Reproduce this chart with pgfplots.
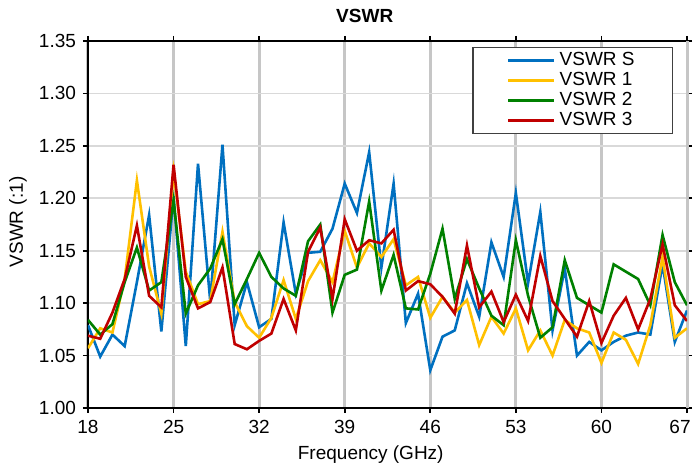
\documentclass[border=0pt]{standalone}
\usepackage{pgfplots}
\pgfplotsset{compat=1.18}
\usepackage{pgfplotstable}
\usepackage{fontspec}
\setmainfont{Liberation Sans}

\definecolor{vS}{RGB}{0,112,192}
\definecolor{v1}{RGB}{255,192,0}
\definecolor{v2}{RGB}{0,128,0}
\definecolor{v3}{RGB}{192,0,0}

% frequency (GHz), VSWR S, VSWR 1, VSWR 2, VSWR 3
\pgfplotstableread{
f     S     A     B     C
18 1.079 1.057 1.084 1.069
19 1.049 1.076 1.070 1.066
20 1.070 1.072 1.080 1.091
21 1.059 1.123 1.120 1.123
22 1.120 1.217 1.153 1.174
23 1.184 1.135 1.112 1.107
24 1.073 1.090 1.120 1.096
25 1.202 1.225 1.198 1.232
26 1.059 1.130 1.090 1.125
27 1.233 1.099 1.117 1.095
28 1.102 1.102 1.133 1.101
29 1.251 1.168 1.161 1.134
30 1.079 1.101 1.099 1.061
31 1.120 1.078 1.123 1.056
32 1.077 1.067 1.148 1.064
33 1.085 1.086 1.125 1.071
34 1.177 1.122 1.114 1.104
35 1.109 1.085 1.107 1.074
36 1.148 1.121 1.159 1.149
37 1.149 1.141 1.175 1.172
38 1.171 1.120 1.091 1.104
39 1.214 1.169 1.127 1.180
40 1.186 1.134 1.132 1.150
41 1.244 1.157 1.197 1.160
42 1.134 1.144 1.112 1.157
43 1.214 1.161 1.146 1.170
44 1.081 1.117 1.095 1.112
45 1.109 1.125 1.094 1.121
46 1.036 1.086 1.128 1.118
47 1.068 1.106 1.171 1.106
48 1.074 1.091 1.104 1.090
49 1.119 1.103 1.142 1.155
50 1.087 1.060 1.114 1.096
51 1.158 1.087 1.088 1.111
52 1.125 1.071 1.079 1.082
53 1.205 1.095 1.160 1.108
54 1.119 1.055 1.107 1.083
55 1.187 1.074 1.067 1.145
56 1.074 1.050 1.077 1.102
57 1.133 1.084 1.141 1.085
58 1.050 1.076 1.105 1.068
59 1.063 1.072 1.098 1.102
60 1.055 1.043 1.091 1.062
61 1.063 1.072 1.137 1.088
62 1.069 1.065 1.130 1.105
63 1.072 1.042 1.123 1.075
64 1.070 1.079 1.098 1.104
65 1.137 1.144 1.165 1.156
66 1.063 1.067 1.120 1.098
67 1.093 1.076 1.098 1.083
}\vswr

\begin{document}
\begin{tikzpicture}
% page frame: 694x469 px at 0.5pt per px, plot area at (88,41)-(687,408) px
\useasboundingbox (-44pt,-30.5pt) rectangle (303pt,204pt);
\begin{axis}[
    at={(0pt,0pt)}, anchor=south west,
    scale only axis,
    width=299.5pt,
    height=183.5pt,
    xmin=18, xmax=67,
    ymin=1, ymax=1.35,
    xtick={18,25,32,39,46,53,60},
    extra x ticks={67},
    extra x tick style={xticklabel style={xshift=-3.5pt}},
    ytick={1,1.05,1.10,1.15,1.20,1.25,1.30,1.35},
    /pgf/number format/assume math mode=true,
    yticklabel style={/pgf/number format/.cd, fixed, fixed zerofill, precision=2},
    ticklabel style={font=\fontsize{9.5}{11}\selectfont},
    tick align=outside,
    major tick length=2.5pt,
    tick style={black, line width=0.8pt},
    axis line style={black, line width=1pt},
    xmajorgrids, ymajorgrids,
    major x grid style={gray!45, line width=1.5pt},
    major y grid style={gray!30, line width=0.9pt},
    title={\bfseries VSWR},
    title style={at={(axis description cs:0.462,1)}, anchor=center, yshift=6.5pt, font=\fontsize{9.5}{11}\selectfont},
    xlabel={Frequency (GHz)},
    ylabel={VSWR (:1)},
    label style={font=\fontsize{9.5}{11}\selectfont},
    xlabel style={at={(axis description cs:0.472,-0.128)}, anchor=center},
    ylabel style={at={(axis description cs:-0.117,0.507)}, anchor=center},
    legend style={at={(0.977,0.984)}, anchor=north east, draw=black!75,
        line width=0.6pt, font=\fontsize{9.5}{10}\selectfont, inner xsep=17pt,
        inner ysep=0.5pt, row sep=-2.2pt},
    legend cell align=left,
    legend image code/.code={\draw[#1] (0pt,0pt) -- (23pt,0pt);},
    every axis plot/.append style={line width=1.3pt},
]
\addplot[vS] table[x=f, y=S] {\vswr};
\addlegendentry{VSWR S}
\addplot[v1] table[x=f, y=A] {\vswr};
\addlegendentry{VSWR 1}
\addplot[v2] table[x=f, y=B] {\vswr};
\addlegendentry{VSWR 2}
\addplot[v3] table[x=f, y=C] {\vswr};
\addlegendentry{VSWR 3}
\end{axis}
\end{tikzpicture}
\end{document}
